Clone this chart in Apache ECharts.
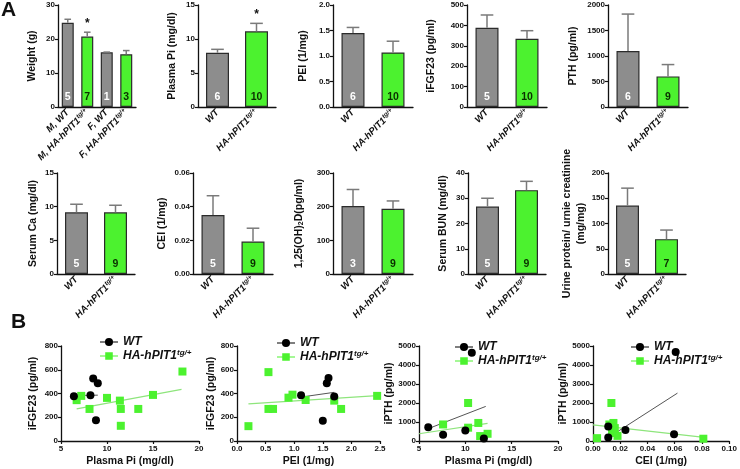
<!DOCTYPE html>
<html><head><meta charset="utf-8">
<script src="https://cdn.jsdelivr.net/npm/echarts@6/dist/echarts.min.js"></script>
<style>html,body{margin:0;padding:0;background:#fff}#c{width:740px;height:469px}</style>
</head><body><div id="c"></div>
<script>
// ---------------- DATA ----------------
const grpCats = ['WT', 'HA-hPIT1tg/+'];
const weightCats = ['M, WT', 'M, HA-hPIT1tg/+', 'F, WT', 'F, HA-hPIT1tg/+'];
const weightMean = [24.8, 20.7, 16.1, 15.5];
const weightSem  = [1.0, 1.3, 0.05, 1.1];
const weightN    = [5, 7, 1, 3];
const weightStar = [0, 1, 0, 0];

const piMean = [7.98, 11.13]; const piSem = [0.5, 1.17]; const piN = [6, 10]; const piStar = [0, 1];
const peiMean = [1.45, 1.07]; const peiSem = [0.11, 0.22]; const peiN = [6, 10];
const fgfMean = [388, 334]; const fgfSem = [63, 40]; const fgfN = [5, 10];
const pthMean = [1096, 600]; const pthSem = [726, 232]; const pthN = [6, 9];
const caMean = [9.16, 9.16]; const caSem = [1.2, 1.05]; const caN = [5, 9];
const ceiMean = [0.035, 0.0193]; const ceiSem = [0.0115, 0.0079]; const ceiN = [5, 9];
const vitdMean = [202, 194]; const vitdSem = [49, 23]; const vitdN = [3, 9];
const bunMean = [26.7, 33.2]; const bunSem = [3.3, 3.5]; const bunN = [5, 9];
const upcMean = [135.5, 69]; const upcSem = [34.5, 18]; const upcN = [5, 7];

// Scatter panel B1: iFGF23 vs Plasma Pi
const b1WtX = [6.4, 8.2, 8.5, 9.0, 8.8];
const b1WtY = [377, 386, 527, 487, 175];
const b1HaX = [6.7, 7.2, 8.1, 10.0, 11.4, 11.5, 11.5, 13.4, 15.0, 18.2];
const b1HaY = [344, 380, 270, 363, 340, 270, 128, 270, 388, 585];
const b1WtFitX = [6.3, 9.0]; const b1WtFitY = [383, 386];
const b1HaFitX = [6.7, 18.1]; const b1HaFitY = [270, 434];
// B2: iFGF23 vs PEI
const b2WtX = [1.12, 1.5, 1.57, 1.6, 1.7];
const b2WtY = [385, 170, 487, 530, 375];
const b2HaX = [0.2, 0.55, 0.55, 0.63, 0.9, 0.97, 1.2, 1.7, 1.82, 2.45];
const b2HaY = [125, 580, 270, 270, 365, 390, 345, 340, 270, 380];
const b2WtFitX = [1.12, 1.7]; const b2WtFitY = [370, 410];
const b2HaFitX = [0.2, 2.45]; const b2HaFitY = [312, 382];
// B3: iPTH vs Plasma Pi
const b3WtX = [6.0, 7.6, 10.0, 10.7, 12.0];
const b3WtY = [720, 330, 550, 4650, 130];
const b3HaX = [7.6, 10.3, 10.3, 11.4, 11.6, 12.4];
const b3HaY = [870, 2000, 700, 950, 260, 380];
const b3WtFitX = [6.0, 12.2]; const b3WtFitY = [650, 1820];
const b3HaFitX = [5.0, 12.4]; const b3HaFitY = [380, 930];
// B4: iPTH vs CEI
const b4WtX = [0.0112, 0.0112, 0.0238, 0.0595, 0.0607];
const b4WtY = [758, 180, 578, 361, 4690];
const b4HaX = [0.003, 0.012, 0.0135, 0.015, 0.014, 0.016, 0.018, 0.081];
const b4HaY = [150, 870, 2000, 950, 420, 680, 270, 120];
const b4WtFitX = [0.016, 0.062]; const b4WtFitY = [400, 2520];
const b4HaFitX = [0.0, 0.08]; const b4HaFitY = [850, 200];

// ---------------- STYLE / LAYOUT ----------------
const FONT = '"Liberation Sans", Arial, Helvetica, sans-serif';
const GRAY = '#8d8d8d', GREEN = '#4cf22f', INK = '#111';
const zip = (xs, ys) => xs.map((x, i) => [x, ys[i]]);

const RICH_CAT = {
  m: {fontSize: 9.5, fontWeight: 'bold', fontStyle: 'italic', color: INK, fontFamily: FONT, lineHeight: 12},
  s: {fontSize: 6.5, fontWeight: 'bold', fontStyle: 'italic', color: INK, fontFamily: FONT, verticalAlign: 'top', lineHeight: 6}
};
function supLabel(v) {
  const m = String(v).match(/^(.*)tg\/\+$/);
  return m ? '{m|' + m[1] + '}{s|tg/+}' : '{m|' + v + '}';
}

const option = {
  animation: false,
  backgroundColor: '#fff',
  textStyle: {fontFamily: FONT},
  grid: [], xAxis: [], yAxis: [], series: [], legend: [],
  graphic: [
    {type: 'text', left: 1, top: 0, style: {text: 'A', font: 'bold 21px ' + FONT, fill: INK}},
    {type: 'text', left: 11, top: 312, style: {text: 'B', font: 'bold 21px ' + FONT, fill: INK}}
  ]
};

const axisLineStyle = {color: INK, width: 1.3};
const tickLabel = {fontSize: 8, fontWeight: 'bold', color: INK, fontFamily: FONT};
const nameStyle = {fontSize: 10.5, fontWeight: 'bold', color: INK, fontFamily: FONT};

function makeErr(capW) {
  return function (params, api) {
    const base = api.coord([api.value(0), api.value(1)]);
    const top = api.coord([api.value(0), api.value(2)]);
    const ch = [
      {type: 'line', shape: {x1: base[0], y1: base[1], x2: base[0], y2: top[1]}, style: {stroke: '#7a7a7a', lineWidth: 1.5}},
      {type: 'line', shape: {x1: base[0] - capW / 2, y1: top[1], x2: base[0] + capW / 2, y2: top[1]}, style: {stroke: '#7a7a7a', lineWidth: 1.5}}
    ];
    if (api.value(3)) ch.push({type: 'text', style: {text: '*', x: base[0], y: top[1] - 3, textAlign: 'center', textVerticalAlign: 'bottom', font: 'bold 12px ' + FONT, fill: INK}});
    return {type: 'group', children: ch};
  };
}

function addBarPanel(p) {
  const gi = option.grid.length;
  option.grid.push({left: p.left, top: p.top, width: p.width, height: p.height});
  option.xAxis.push({
    type: 'category', gridIndex: gi, data: p.cats,
    axisLine: {lineStyle: axisLineStyle},
    axisTick: {alignWithLabel: true, length: 3, lineStyle: {color: INK, width: 1.2}},
    axisLabel: {interval: 0, rotate: 45, margin: 4, formatter: supLabel, rich: RICH_CAT}
  });
  option.yAxis.push({
    type: 'value', gridIndex: gi, min: 0, max: p.max, interval: p.interval,
    name: p.name, nameLocation: 'middle', nameGap: p.nameGap, nameRotate: 90,
    nameTextStyle: Object.assign({}, nameStyle, p.nameRich ? {rich: p.nameRich} : {}, p.nameLH ? {lineHeight: p.nameLH} : {}),
    axisLine: {show: true, lineStyle: axisLineStyle},
    axisTick: {show: true, length: 3, lineStyle: {color: INK, width: 1.2}},
    axisLabel: Object.assign({margin: 3, formatter: v => v.toFixed(p.dec)}, tickLabel),
    splitLine: {show: false}
  });
  option.series.push({
    type: 'bar', xAxisIndex: gi, yAxisIndex: gi, barWidth: p.barW,
    data: p.mean.map((v, i) => ({
      value: v,
      itemStyle: {color: i % 2 ? GREEN : GRAY},
      label: {color: i % 2 ? '#0b3000' : '#fff'}
    })),
    itemStyle: {borderColor: '#2b2b2b', borderWidth: 1.2},
    label: {show: true, position: 'insideBottom', distance: 4, fontSize: 10.5, fontWeight: 'bold', fontFamily: FONT,
      formatter: prm => String(p.n[prm.dataIndex])}
  });
  option.series.push({
    type: 'custom', xAxisIndex: gi, yAxisIndex: gi,
    data: p.mean.map((v, i) => [i, v, v + p.sem[i], p.star ? p.star[i] : 0]),
    renderItem: makeErr(p.barW * 0.55), encode: {x: 0, y: [1, 2]}, z: 3
  });
}

const ROW1 = {top: 5, height: 102};
const ROW2 = {top: 173, height: 101};
const barPanels = [
  Object.assign({name: 'Weight (g)', cats: weightCats, mean: weightMean, sem: weightSem, n: weightN, star: weightStar, max: 30, interval: 10, dec: 0, left: 58, width: 78, barW: 12, nameGap: 20}, ROW1),
  Object.assign({name: 'Plasma Pi (mg/dl)', cats: grpCats, mean: piMean, sem: piSem, n: piN, star: piStar, max: 15, interval: 5, dec: 0, left: 198, width: 78, barW: 23, nameGap: 20}, ROW1),
  Object.assign({name: 'PEI (1/mg)', cats: grpCats, mean: peiMean, sem: peiSem, n: peiN, max: 2, interval: 0.5, dec: 1, left: 333, width: 80, barW: 23, nameGap: 24}, ROW1),
  Object.assign({name: 'iFGF23 (pg/ml)', cats: grpCats, mean: fgfMean, sem: fgfSem, n: fgfN, max: 500, interval: 100, dec: 0, left: 467, width: 80, barW: 23, nameGap: 30}, ROW1),
  Object.assign({name: 'PTH (pg/ml)', cats: grpCats, mean: pthMean, sem: pthSem, n: pthN, max: 2000, interval: 500, dec: 0, left: 608, width: 80, barW: 23, nameGap: 29}, ROW1),
  Object.assign({name: 'Serum Ca (mg/dl)', cats: grpCats, mean: caMean, sem: caSem, n: caN, max: 15, interval: 5, dec: 0, left: 57, width: 78, barW: 23, nameGap: 18}, ROW2),
  Object.assign({name: 'CEI (1/mg)', cats: grpCats, mean: ceiMean, sem: ceiSem, n: ceiN, max: 0.06, interval: 0.02, dec: 2, left: 193, width: 80, barW: 23, nameGap: 25}, ROW2),
  Object.assign({name: '{a|1,25(OH)}{b|2}{a|D(pg/ml)}', nameRich: {a: {fontSize: 10.5, fontWeight: 'bold', fontFamily: FONT, color: INK}, b: {fontSize: 7, fontWeight: 'bold', fontFamily: FONT, color: INK, verticalAlign: 'bottom', lineHeight: 6}},
    cats: grpCats, mean: vitdMean, sem: vitdSem, n: vitdN, max: 300, interval: 100, dec: 0, left: 333, width: 80, barW: 23, nameGap: 28}, ROW2),
  Object.assign({name: 'Serum BUN (mg/dl)', cats: grpCats, mean: bunMean, sem: bunSem, n: bunN, max: 40, interval: 10, dec: 0, left: 468, width: 78, barW: 23, nameGap: 19}, ROW2),
  Object.assign({name: 'Urine protein/ urnie creatinine\n(mg/mg)', nameLH: 14, cats: grpCats, mean: upcMean, sem: upcSem, n: upcN, max: 200, interval: 50, dec: 0, left: 608, width: 78, barW: 23, nameGap: 19}, ROW2)
];
barPanels.forEach(addBarPanel);

// ---------- scatter panels ----------
const WT_ICON = 'path://M0,4.4H20V5.6H0Z M14.5,5A4.5,4.5 0 1 1 5.5,5A4.5,4.5 0 1 1 14.5,5Z';
const HA_ICON = 'path://M0,4.4H20V5.6H0Z M5.8,0.8H14.2V9.2H5.8Z';
const LEG_RICH = {
  m: {fontSize: 12, fontWeight: 'bold', fontStyle: 'italic', color: INK, fontFamily: FONT, lineHeight: 14},
  s: {fontSize: 8, fontWeight: 'bold', fontStyle: 'italic', color: INK, fontFamily: FONT, verticalAlign: 'top', lineHeight: 8}
};

function addScatterPanel(p) {
  const gi = option.grid.length;
  option.grid.push({left: p.left, top: 346, width: p.width, height: 95});
  option.xAxis.push({
    type: 'value', gridIndex: gi, min: p.xmin, max: p.xmax, interval: p.xint,
    name: p.xname, nameLocation: 'middle', nameGap: 15, nameTextStyle: nameStyle,
    axisLine: {show: true, onZero: false, lineStyle: axisLineStyle},
    axisTick: {show: true, length: 3, lineStyle: {color: INK, width: 1.2}},
    axisLabel: Object.assign({margin: 4, formatter: v => v.toFixed(p.xdec)}, tickLabel),
    splitLine: {show: false}
  });
  option.yAxis.push({
    type: 'value', gridIndex: gi, min: 0, max: p.ymax, interval: p.yint,
    name: p.yname, nameLocation: 'middle', nameGap: p.ynameGap, nameRotate: 90, nameTextStyle: nameStyle,
    axisLine: {show: true, onZero: false, lineStyle: axisLineStyle},
    axisTick: {show: true, length: 3, lineStyle: {color: INK, width: 1.2}},
    axisLabel: Object.assign({margin: 3, formatter: v => String(Math.round(v))}, tickLabel),
    splitLine: {show: false}
  });
  option.series.push(
    {type: 'line', name: 'fitWT' + gi, xAxisIndex: gi, yAxisIndex: gi, data: zip(p.wtFitX, p.wtFitY), symbol: 'none', lineStyle: {color: '#555', width: 1}, z: 2},
    {type: 'line', name: 'fitHA' + gi, xAxisIndex: gi, yAxisIndex: gi, data: zip(p.haFitX, p.haFitY), symbol: 'none', lineStyle: {color: '#8ee57c', width: 1.2}, z: 2},
    {type: 'scatter', name: 'HA-hPIT1tg/+', xAxisIndex: gi, yAxisIndex: gi, data: zip(p.haX, p.haY), symbol: 'rect', symbolSize: 8, itemStyle: {color: GREEN, opacity: 1}, z: 3},
    {type: 'scatter', name: 'WT', xAxisIndex: gi, yAxisIndex: gi, data: zip(p.wtX, p.wtY), symbol: 'circle', symbolSize: 8, itemStyle: {color: '#000', opacity: 1}, z: 4}
  );
  option.legend.push({
    orient: 'vertical', left: p.legLeft, top: p.legTop, itemGap: 1, itemWidth: 18, itemHeight: 9,
    selectedMode: false, padding: 0,
    data: [{name: 'WT', icon: WT_ICON, itemStyle: {color: '#000'}}, {name: 'HA-hPIT1tg/+', icon: HA_ICON, itemStyle: {color: GREEN}}],
    formatter: supLabel, textStyle: {rich: LEG_RICH}
  });
}

[
  {left: 61, width: 138, xmin: 5, xmax: 20, xint: 5, xdec: 0, xname: 'Plasma Pi (mg/dl)', ymax: 800, yint: 200, yname: 'iFGF23 (pg/ml)', ynameGap: 22,
   wtX: b1WtX, wtY: b1WtY, haX: b1HaX, haY: b1HaY, wtFitX: b1WtFitX, wtFitY: b1WtFitY, haFitX: b1HaFitX, haFitY: b1HaFitY, legLeft: 100, legTop: 336},
  {left: 237, width: 143, xmin: 0, xmax: 2.5, xint: 0.5, xdec: 1, xname: 'PEI (1/mg)', ymax: 800, yint: 200, yname: 'iFGF23 (pg/ml)', ynameGap: 19,
   wtX: b2WtX, wtY: b2WtY, haX: b2HaX, haY: b2HaY, wtFitX: b2WtFitX, wtFitY: b2WtFitY, haFitX: b2HaFitX, haFitY: b2HaFitY, legLeft: 277, legTop: 337},
  {left: 419, width: 139, xmin: 5, xmax: 20, xint: 5, xdec: 0, xname: 'Plasma Pi (mg/dl)', ymax: 5000, yint: 1000, yname: 'iPTH (pg/ml)', ynameGap: 20,
   wtX: b3WtX, wtY: b3WtY, haX: b3HaX, haY: b3HaY, wtFitX: b3WtFitX, wtFitY: b3WtFitY, haFitX: b3HaFitX, haFitY: b3HaFitY, legLeft: 455, legTop: 341},
  {left: 593, width: 140, xmin: 0, xmax: 0.1, xint: 0.02, xdec: 2, xname: 'CEI (1/mg)', ymax: 5000, yint: 1000, yname: 'iPTH (pg/ml)', ynameGap: 20,
   wtX: b4WtX, wtY: b4WtY, haX: b4HaX, haY: b4HaY, wtFitX: b4WtFitX, wtFitY: b4WtFitY, haFitX: b4HaFitX, haFitY: b4HaFitY, legLeft: 631, legTop: 341}
].forEach(addScatterPanel);

const chart = echarts.init(document.getElementById('c'), null, {renderer: 'canvas'});
chart.setOption(option);
</script></body></html>
